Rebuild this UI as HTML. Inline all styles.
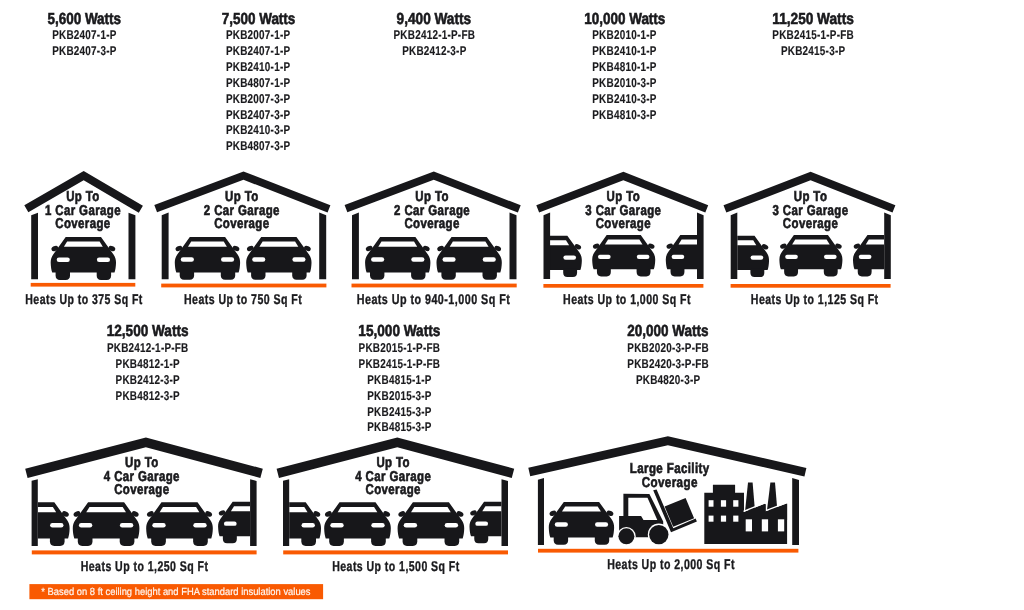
<!DOCTYPE html>
<html><head><meta charset="utf-8"><style>
html,body{margin:0;padding:0;background:#fff;}
svg{display:block;will-change:transform;}
text{font-family:"Liberation Sans",sans-serif;text-rendering:geometricPrecision;}
</style></head><body>
<svg width="1024" height="610" viewBox="0 0 1024 610">
<defs><clipPath id="c30"><rect x="550.1" y="200" width="146.89999999999998" height="100"/></clipPath><clipPath id="c31"><rect x="737.3" y="200" width="146.9000000000001" height="100"/></clipPath><clipPath id="c40"><rect x="37.8" y="480" width="212.3" height="80"/></clipPath><clipPath id="c41"><rect x="289.2" y="480" width="212.3" height="80"/></clipPath></defs>
<rect width="1024" height="610" fill="#fff"/>
<text transform="translate(84.25,23.60) scale(0.8429,1)" x="-43.72" y="0" font-size="16.0" font-weight="700" fill="#1a1a1d" stroke="#1a1a1d" stroke-width="0.6">5,600 Watts</text>
<text transform="translate(258.55,23.60) scale(0.8406,1)" x="-43.72" y="0" font-size="16.0" font-weight="700" fill="#1a1a1d" stroke="#1a1a1d" stroke-width="0.6">7,500 Watts</text>
<text transform="translate(433.85,23.60) scale(0.8520,1)" x="-43.72" y="0" font-size="16.0" font-weight="700" fill="#1a1a1d" stroke="#1a1a1d" stroke-width="0.6">9,400 Watts</text>
<text transform="translate(624.80,23.60) scale(0.8406,1)" x="-48.18" y="0" font-size="16.0" font-weight="700" fill="#1a1a1d" stroke="#1a1a1d" stroke-width="0.6">10,000 Watts</text>
<text transform="translate(813.05,23.60) scale(0.8536,1)" x="-47.74" y="0" font-size="16.0" font-weight="700" fill="#1a1a1d" stroke="#1a1a1d" stroke-width="0.6">11,250 Watts</text>
<text transform="translate(147.60,336.00) scale(0.8489,1)" x="-48.18" y="0" font-size="16.0" font-weight="700" fill="#1a1a1d" stroke="#1a1a1d" stroke-width="0.6">12,500 Watts</text>
<text transform="translate(399.30,336.00) scale(0.8510,1)" x="-48.18" y="0" font-size="16.0" font-weight="700" fill="#1a1a1d" stroke="#1a1a1d" stroke-width="0.6">15,000 Watts</text>
<text transform="translate(667.80,335.50) scale(0.8427,1)" x="-48.18" y="0" font-size="16.0" font-weight="700" fill="#1a1a1d" stroke="#1a1a1d" stroke-width="0.6">20,000 Watts</text>
<text transform="translate(84.25,39.00) scale(0.7758,1)" x="-41.34" y="0" font-size="12.8" font-weight="700" fill="#1a1a1d" letter-spacing="0.3" stroke="#1a1a1d" stroke-width="0.15">PKB2407-1-P</text>
<text transform="translate(84.25,54.90) scale(0.7758,1)" x="-41.34" y="0" font-size="12.8" font-weight="700" fill="#1a1a1d" letter-spacing="0.3" stroke="#1a1a1d" stroke-width="0.15">PKB2407-3-P</text>
<text transform="translate(258.00,39.00) scale(0.7758,1)" x="-41.34" y="0" font-size="12.8" font-weight="700" fill="#1a1a1d" letter-spacing="0.3" stroke="#1a1a1d" stroke-width="0.15">PKB2007-1-P</text>
<text transform="translate(258.00,54.90) scale(0.7758,1)" x="-41.34" y="0" font-size="12.8" font-weight="700" fill="#1a1a1d" letter-spacing="0.3" stroke="#1a1a1d" stroke-width="0.15">PKB2407-1-P</text>
<text transform="translate(258.00,70.80) scale(0.7758,1)" x="-41.34" y="0" font-size="12.8" font-weight="700" fill="#1a1a1d" letter-spacing="0.3" stroke="#1a1a1d" stroke-width="0.15">PKB2410-1-P</text>
<text transform="translate(258.00,86.70) scale(0.7758,1)" x="-41.34" y="0" font-size="12.8" font-weight="700" fill="#1a1a1d" letter-spacing="0.3" stroke="#1a1a1d" stroke-width="0.15">PKB4807-1-P</text>
<text transform="translate(258.00,102.60) scale(0.7758,1)" x="-41.34" y="0" font-size="12.8" font-weight="700" fill="#1a1a1d" letter-spacing="0.3" stroke="#1a1a1d" stroke-width="0.15">PKB2007-3-P</text>
<text transform="translate(258.00,118.50) scale(0.7758,1)" x="-41.34" y="0" font-size="12.8" font-weight="700" fill="#1a1a1d" letter-spacing="0.3" stroke="#1a1a1d" stroke-width="0.15">PKB2407-3-P</text>
<text transform="translate(258.00,134.40) scale(0.7758,1)" x="-41.34" y="0" font-size="12.8" font-weight="700" fill="#1a1a1d" letter-spacing="0.3" stroke="#1a1a1d" stroke-width="0.15">PKB2410-3-P</text>
<text transform="translate(258.00,150.30) scale(0.7758,1)" x="-41.34" y="0" font-size="12.8" font-weight="700" fill="#1a1a1d" letter-spacing="0.3" stroke="#1a1a1d" stroke-width="0.15">PKB4807-3-P</text>
<text transform="translate(434.20,39.00) scale(0.7758,1)" x="-52.46" y="0" font-size="12.8" font-weight="700" fill="#1a1a1d" letter-spacing="0.3" stroke="#1a1a1d" stroke-width="0.15">PKB2412-1-P-FB</text>
<text transform="translate(434.20,54.90) scale(0.7758,1)" x="-41.34" y="0" font-size="12.8" font-weight="700" fill="#1a1a1d" letter-spacing="0.3" stroke="#1a1a1d" stroke-width="0.15">PKB2412-3-P</text>
<text transform="translate(624.30,39.00) scale(0.7758,1)" x="-41.34" y="0" font-size="12.8" font-weight="700" fill="#1a1a1d" letter-spacing="0.3" stroke="#1a1a1d" stroke-width="0.15">PKB2010-1-P</text>
<text transform="translate(624.30,54.90) scale(0.7758,1)" x="-41.34" y="0" font-size="12.8" font-weight="700" fill="#1a1a1d" letter-spacing="0.3" stroke="#1a1a1d" stroke-width="0.15">PKB2410-1-P</text>
<text transform="translate(624.30,70.80) scale(0.7758,1)" x="-41.34" y="0" font-size="12.8" font-weight="700" fill="#1a1a1d" letter-spacing="0.3" stroke="#1a1a1d" stroke-width="0.15">PKB4810-1-P</text>
<text transform="translate(624.30,86.70) scale(0.7758,1)" x="-41.34" y="0" font-size="12.8" font-weight="700" fill="#1a1a1d" letter-spacing="0.3" stroke="#1a1a1d" stroke-width="0.15">PKB2010-3-P</text>
<text transform="translate(624.30,102.60) scale(0.7758,1)" x="-41.34" y="0" font-size="12.8" font-weight="700" fill="#1a1a1d" letter-spacing="0.3" stroke="#1a1a1d" stroke-width="0.15">PKB2410-3-P</text>
<text transform="translate(624.30,118.50) scale(0.7758,1)" x="-41.34" y="0" font-size="12.8" font-weight="700" fill="#1a1a1d" letter-spacing="0.3" stroke="#1a1a1d" stroke-width="0.15">PKB4810-3-P</text>
<text transform="translate(813.00,39.00) scale(0.7758,1)" x="-52.46" y="0" font-size="12.8" font-weight="700" fill="#1a1a1d" letter-spacing="0.3" stroke="#1a1a1d" stroke-width="0.15">PKB2415-1-P-FB</text>
<text transform="translate(813.00,54.90) scale(0.7758,1)" x="-41.34" y="0" font-size="12.8" font-weight="700" fill="#1a1a1d" letter-spacing="0.3" stroke="#1a1a1d" stroke-width="0.15">PKB2415-3-P</text>
<text transform="translate(147.60,351.90) scale(0.7758,1)" x="-52.46" y="0" font-size="12.8" font-weight="700" fill="#1a1a1d" letter-spacing="0.3" stroke="#1a1a1d" stroke-width="0.15">PKB2412-1-P-FB</text>
<text transform="translate(147.60,367.80) scale(0.7758,1)" x="-41.34" y="0" font-size="12.8" font-weight="700" fill="#1a1a1d" letter-spacing="0.3" stroke="#1a1a1d" stroke-width="0.15">PKB4812-1-P</text>
<text transform="translate(147.60,383.70) scale(0.7758,1)" x="-41.34" y="0" font-size="12.8" font-weight="700" fill="#1a1a1d" letter-spacing="0.3" stroke="#1a1a1d" stroke-width="0.15">PKB2412-3-P</text>
<text transform="translate(147.60,399.60) scale(0.7758,1)" x="-41.34" y="0" font-size="12.8" font-weight="700" fill="#1a1a1d" letter-spacing="0.3" stroke="#1a1a1d" stroke-width="0.15">PKB4812-3-P</text>
<text transform="translate(399.30,351.90) scale(0.7758,1)" x="-52.46" y="0" font-size="12.8" font-weight="700" fill="#1a1a1d" letter-spacing="0.3" stroke="#1a1a1d" stroke-width="0.15">PKB2015-1-P-FB</text>
<text transform="translate(399.30,367.80) scale(0.7758,1)" x="-52.46" y="0" font-size="12.8" font-weight="700" fill="#1a1a1d" letter-spacing="0.3" stroke="#1a1a1d" stroke-width="0.15">PKB2415-1-P-FB</text>
<text transform="translate(399.30,383.70) scale(0.7758,1)" x="-41.34" y="0" font-size="12.8" font-weight="700" fill="#1a1a1d" letter-spacing="0.3" stroke="#1a1a1d" stroke-width="0.15">PKB4815-1-P</text>
<text transform="translate(399.30,399.60) scale(0.7758,1)" x="-41.34" y="0" font-size="12.8" font-weight="700" fill="#1a1a1d" letter-spacing="0.3" stroke="#1a1a1d" stroke-width="0.15">PKB2015-3-P</text>
<text transform="translate(399.30,415.50) scale(0.7758,1)" x="-41.34" y="0" font-size="12.8" font-weight="700" fill="#1a1a1d" letter-spacing="0.3" stroke="#1a1a1d" stroke-width="0.15">PKB2415-3-P</text>
<text transform="translate(399.30,431.40) scale(0.7758,1)" x="-41.34" y="0" font-size="12.8" font-weight="700" fill="#1a1a1d" letter-spacing="0.3" stroke="#1a1a1d" stroke-width="0.15">PKB4815-3-P</text>
<text transform="translate(668.00,351.90) scale(0.7758,1)" x="-52.46" y="0" font-size="12.8" font-weight="700" fill="#1a1a1d" letter-spacing="0.3" stroke="#1a1a1d" stroke-width="0.15">PKB2020-3-P-FB</text>
<text transform="translate(668.00,367.80) scale(0.7758,1)" x="-52.46" y="0" font-size="12.8" font-weight="700" fill="#1a1a1d" letter-spacing="0.3" stroke="#1a1a1d" stroke-width="0.15">PKB2420-3-P-FB</text>
<text transform="translate(668.00,383.70) scale(0.7758,1)" x="-41.34" y="0" font-size="12.8" font-weight="700" fill="#1a1a1d" letter-spacing="0.3" stroke="#1a1a1d" stroke-width="0.15">PKB4820-3-P</text>
<polygon points="24.30,205.20 83.70,171.00 142.90,205.70 138.80,212.69 83.66,180.37 28.34,212.22" fill="#17171a" />
<polygon points="31.20,215.22 38.00,212.70 38.00,279.30 31.20,279.30" fill="#17171a" />
<polygon points="128.50,212.70 135.40,215.25 135.40,279.30 128.50,279.30" fill="#17171a" />
<rect x="30.70" y="282.90" width="104.60" height="3.70" fill="#f95a02"/>
<g transform="translate(50.90,237.10) scale(1.0)">
<path d="M14.8,0 H50.1 L62.6,17.4 C64.6,20.2 65.2,23 65.1,26 C65,29.5 64.5,33 63.6,35.5 H1.3 C0.4,33 -0.1,29.5 -0.2,26 C-0.3,23 0.3,20.2 2.3,17.4 Z" fill="#17171a"/>
<path d="M16.2,4.5 H48.7 L51.9,9.7 H13 Z" fill="#fff"/>
<ellipse cx="0" cy="0" rx="3.5" ry="2.4" transform="translate(3.9,11.4) rotate(-25)" fill="#17171a"/>
<ellipse cx="0" cy="0" rx="3.5" ry="2.4" transform="translate(61,11.4) rotate(25)" fill="#17171a"/>
<rect x="5.8" y="20.3" width="13.1" height="4.5" rx="2.25" fill="#fff"/>
<rect x="46" y="20.3" width="13.1" height="4.5" rx="2.25" fill="#fff"/>
<path d="M4.7,34 H19.1 V38.3 C19.1,41.2 17.6,42.8 14.8,42.8 H9 C6.2,42.8 4.7,41.2 4.7,38.3 Z" fill="#17171a"/>
<path d="M45.8,34 H60.2 V38.3 C60.2,41.2 58.7,42.8 55.9,42.8 H50.1 C47.3,42.8 45.8,41.2 45.8,38.3 Z" fill="#17171a"/>
</g>
<text transform="translate(82.70,201.10) scale(0.7998,1)" x="-20.72" y="0" font-size="14.3" font-weight="700" fill="#1a1a1d" letter-spacing="0.5" stroke="#1a1a1d" stroke-width="0.65">Up To</text>
<text transform="translate(82.70,214.80) scale(0.7998,1)" x="-47.26" y="0" font-size="14.3" font-weight="700" fill="#1a1a1d" letter-spacing="0.5" stroke="#1a1a1d" stroke-width="0.65">1 Car Garage</text>
<text transform="translate(82.70,228.10) scale(0.7998,1)" x="-34.34" y="0" font-size="14.3" font-weight="700" fill="#1a1a1d" letter-spacing="0.5" stroke="#1a1a1d" stroke-width="0.65">Coverage</text>
<text transform="translate(83.85,303.70) scale(0.7461,1)" x="-78.47" y="0" font-size="14.1" font-weight="700" fill="#1a1a1d" letter-spacing="0.6" stroke="#1a1a1d" stroke-width="0.35">Heats Up to 375 Sq Ft</text>
<polygon points="154.30,205.00 243.50,171.40 330.40,205.30 327.57,212.57 243.45,179.75 157.05,212.30" fill="#17171a" />
<polygon points="161.70,215.22 168.60,212.60 168.60,279.30 161.70,279.30" fill="#17171a" />
<polygon points="319.20,212.60 326.20,215.26 326.20,279.30 319.20,279.30" fill="#17171a" />
<rect x="161.20" y="283.60" width="165.20" height="3.80" fill="#f95a02"/>
<g transform="translate(175.00,237.00) scale(1.0)">
<path d="M14.8,0 H50.1 L62.6,17.4 C64.6,20.2 65.2,23 65.1,26 C65,29.5 64.5,33 63.6,35.5 H1.3 C0.4,33 -0.1,29.5 -0.2,26 C-0.3,23 0.3,20.2 2.3,17.4 Z" fill="#17171a"/>
<path d="M16.2,4.5 H48.7 L51.9,9.7 H13 Z" fill="#fff"/>
<ellipse cx="0" cy="0" rx="3.5" ry="2.4" transform="translate(3.9,11.4) rotate(-25)" fill="#17171a"/>
<ellipse cx="0" cy="0" rx="3.5" ry="2.4" transform="translate(61,11.4) rotate(25)" fill="#17171a"/>
<rect x="5.8" y="20.3" width="13.1" height="4.5" rx="2.25" fill="#fff"/>
<rect x="46" y="20.3" width="13.1" height="4.5" rx="2.25" fill="#fff"/>
<path d="M4.7,34 H19.1 V38.3 C19.1,41.2 17.6,42.8 14.8,42.8 H9 C6.2,42.8 4.7,41.2 4.7,38.3 Z" fill="#17171a"/>
<path d="M45.8,34 H60.2 V38.3 C60.2,41.2 58.7,42.8 55.9,42.8 H50.1 C47.3,42.8 45.8,41.2 45.8,38.3 Z" fill="#17171a"/>
</g>
<g transform="translate(246.40,237.00) scale(1.0)">
<path d="M14.8,0 H50.1 L62.6,17.4 C64.6,20.2 65.2,23 65.1,26 C65,29.5 64.5,33 63.6,35.5 H1.3 C0.4,33 -0.1,29.5 -0.2,26 C-0.3,23 0.3,20.2 2.3,17.4 Z" fill="#17171a"/>
<path d="M16.2,4.5 H48.7 L51.9,9.7 H13 Z" fill="#fff"/>
<ellipse cx="0" cy="0" rx="3.5" ry="2.4" transform="translate(3.9,11.4) rotate(-25)" fill="#17171a"/>
<ellipse cx="0" cy="0" rx="3.5" ry="2.4" transform="translate(61,11.4) rotate(25)" fill="#17171a"/>
<rect x="5.8" y="20.3" width="13.1" height="4.5" rx="2.25" fill="#fff"/>
<rect x="46" y="20.3" width="13.1" height="4.5" rx="2.25" fill="#fff"/>
<path d="M4.7,34 H19.1 V38.3 C19.1,41.2 17.6,42.8 14.8,42.8 H9 C6.2,42.8 4.7,41.2 4.7,38.3 Z" fill="#17171a"/>
<path d="M45.8,34 H60.2 V38.3 C60.2,41.2 58.7,42.8 55.9,42.8 H50.1 C47.3,42.8 45.8,41.2 45.8,38.3 Z" fill="#17171a"/>
</g>
<text transform="translate(241.60,201.10) scale(0.7998,1)" x="-20.72" y="0" font-size="14.3" font-weight="700" fill="#1a1a1d" letter-spacing="0.5" stroke="#1a1a1d" stroke-width="0.65">Up To</text>
<text transform="translate(241.60,214.80) scale(0.7998,1)" x="-47.26" y="0" font-size="14.3" font-weight="700" fill="#1a1a1d" letter-spacing="0.5" stroke="#1a1a1d" stroke-width="0.65">2 Car Garage</text>
<text transform="translate(241.60,228.10) scale(0.7998,1)" x="-34.34" y="0" font-size="14.3" font-weight="700" fill="#1a1a1d" letter-spacing="0.5" stroke="#1a1a1d" stroke-width="0.65">Coverage</text>
<text transform="translate(242.85,304.10) scale(0.7499,1)" x="-78.47" y="0" font-size="14.1" font-weight="700" fill="#1a1a1d" letter-spacing="0.6" stroke="#1a1a1d" stroke-width="0.35">Heats Up to 750 Sq Ft</text>
<polygon points="344.60,205.00 433.80,171.40 520.70,205.30 517.87,212.57 433.75,179.75 347.35,212.30" fill="#17171a" />
<polygon points="352.00,215.22 358.90,212.60 358.90,279.30 352.00,279.30" fill="#17171a" />
<polygon points="509.50,212.60 516.50,215.26 516.50,279.30 509.50,279.30" fill="#17171a" />
<rect x="351.50" y="283.60" width="165.20" height="3.80" fill="#f95a02"/>
<g transform="translate(365.30,237.00) scale(1.0)">
<path d="M14.8,0 H50.1 L62.6,17.4 C64.6,20.2 65.2,23 65.1,26 C65,29.5 64.5,33 63.6,35.5 H1.3 C0.4,33 -0.1,29.5 -0.2,26 C-0.3,23 0.3,20.2 2.3,17.4 Z" fill="#17171a"/>
<path d="M16.2,4.5 H48.7 L51.9,9.7 H13 Z" fill="#fff"/>
<ellipse cx="0" cy="0" rx="3.5" ry="2.4" transform="translate(3.9,11.4) rotate(-25)" fill="#17171a"/>
<ellipse cx="0" cy="0" rx="3.5" ry="2.4" transform="translate(61,11.4) rotate(25)" fill="#17171a"/>
<rect x="5.8" y="20.3" width="13.1" height="4.5" rx="2.25" fill="#fff"/>
<rect x="46" y="20.3" width="13.1" height="4.5" rx="2.25" fill="#fff"/>
<path d="M4.7,34 H19.1 V38.3 C19.1,41.2 17.6,42.8 14.8,42.8 H9 C6.2,42.8 4.7,41.2 4.7,38.3 Z" fill="#17171a"/>
<path d="M45.8,34 H60.2 V38.3 C60.2,41.2 58.7,42.8 55.9,42.8 H50.1 C47.3,42.8 45.8,41.2 45.8,38.3 Z" fill="#17171a"/>
</g>
<g transform="translate(436.70,237.00) scale(1.0)">
<path d="M14.8,0 H50.1 L62.6,17.4 C64.6,20.2 65.2,23 65.1,26 C65,29.5 64.5,33 63.6,35.5 H1.3 C0.4,33 -0.1,29.5 -0.2,26 C-0.3,23 0.3,20.2 2.3,17.4 Z" fill="#17171a"/>
<path d="M16.2,4.5 H48.7 L51.9,9.7 H13 Z" fill="#fff"/>
<ellipse cx="0" cy="0" rx="3.5" ry="2.4" transform="translate(3.9,11.4) rotate(-25)" fill="#17171a"/>
<ellipse cx="0" cy="0" rx="3.5" ry="2.4" transform="translate(61,11.4) rotate(25)" fill="#17171a"/>
<rect x="5.8" y="20.3" width="13.1" height="4.5" rx="2.25" fill="#fff"/>
<rect x="46" y="20.3" width="13.1" height="4.5" rx="2.25" fill="#fff"/>
<path d="M4.7,34 H19.1 V38.3 C19.1,41.2 17.6,42.8 14.8,42.8 H9 C6.2,42.8 4.7,41.2 4.7,38.3 Z" fill="#17171a"/>
<path d="M45.8,34 H60.2 V38.3 C60.2,41.2 58.7,42.8 55.9,42.8 H50.1 C47.3,42.8 45.8,41.2 45.8,38.3 Z" fill="#17171a"/>
</g>
<text transform="translate(431.90,201.10) scale(0.7998,1)" x="-20.72" y="0" font-size="14.3" font-weight="700" fill="#1a1a1d" letter-spacing="0.5" stroke="#1a1a1d" stroke-width="0.65">Up To</text>
<text transform="translate(431.90,214.80) scale(0.7998,1)" x="-47.26" y="0" font-size="14.3" font-weight="700" fill="#1a1a1d" letter-spacing="0.5" stroke="#1a1a1d" stroke-width="0.65">2 Car Garage</text>
<text transform="translate(431.90,228.10) scale(0.7998,1)" x="-34.34" y="0" font-size="14.3" font-weight="700" fill="#1a1a1d" letter-spacing="0.5" stroke="#1a1a1d" stroke-width="0.65">Coverage</text>
<text transform="translate(433.25,304.10) scale(0.7635,1)" x="-100.26" y="0" font-size="14.1" font-weight="700" fill="#1a1a1d" letter-spacing="0.6" stroke="#1a1a1d" stroke-width="0.35">Heats Up to 940-1,000 Sq Ft</text>
<polygon points="536.30,205.20 623.40,171.80 708.20,205.20 705.30,212.55 623.36,180.28 539.13,212.58" fill="#17171a" />
<g clip-path="url(#c30)"><g transform="translate(519.00,235.80) scale(0.965)">
<path d="M14.8,0 H50.1 L62.6,17.4 C64.6,20.2 65.2,23 65.1,26 C65,29.5 64.5,33 63.6,35.5 H1.3 C0.4,33 -0.1,29.5 -0.2,26 C-0.3,23 0.3,20.2 2.3,17.4 Z" fill="#17171a"/>
<path d="M16.2,4.5 H48.7 L51.9,9.7 H13 Z" fill="#fff"/>
<ellipse cx="0" cy="0" rx="3.5" ry="2.4" transform="translate(3.9,11.4) rotate(-25)" fill="#17171a"/>
<ellipse cx="0" cy="0" rx="3.5" ry="2.4" transform="translate(61,11.4) rotate(25)" fill="#17171a"/>
<rect x="5.8" y="20.3" width="13.1" height="4.5" rx="2.25" fill="#fff"/>
<rect x="46" y="20.3" width="13.1" height="4.5" rx="2.25" fill="#fff"/>
<path d="M4.7,34 H19.1 V38.3 C19.1,41.2 17.6,42.8 14.8,42.8 H9 C6.2,42.8 4.7,41.2 4.7,38.3 Z" fill="#17171a"/>
<path d="M45.8,34 H60.2 V38.3 C60.2,41.2 58.7,42.8 55.9,42.8 H50.1 C47.3,42.8 45.8,41.2 45.8,38.3 Z" fill="#17171a"/>
</g></g>
<g transform="translate(592.40,235.10) scale(0.965)">
<path d="M14.8,0 H50.1 L62.6,17.4 C64.6,20.2 65.2,23 65.1,26 C65,29.5 64.5,33 63.6,35.5 H1.3 C0.4,33 -0.1,29.5 -0.2,26 C-0.3,23 0.3,20.2 2.3,17.4 Z" fill="#17171a"/>
<path d="M16.2,4.5 H48.7 L51.9,9.7 H13 Z" fill="#fff"/>
<ellipse cx="0" cy="0" rx="3.5" ry="2.4" transform="translate(3.9,11.4) rotate(-25)" fill="#17171a"/>
<ellipse cx="0" cy="0" rx="3.5" ry="2.4" transform="translate(61,11.4) rotate(25)" fill="#17171a"/>
<rect x="5.8" y="20.3" width="13.1" height="4.5" rx="2.25" fill="#fff"/>
<rect x="46" y="20.3" width="13.1" height="4.5" rx="2.25" fill="#fff"/>
<path d="M4.7,34 H19.1 V38.3 C19.1,41.2 17.6,42.8 14.8,42.8 H9 C6.2,42.8 4.7,41.2 4.7,38.3 Z" fill="#17171a"/>
<path d="M45.8,34 H60.2 V38.3 C60.2,41.2 58.7,42.8 55.9,42.8 H50.1 C47.3,42.8 45.8,41.2 45.8,38.3 Z" fill="#17171a"/>
</g>
<g clip-path="url(#c30)"><g transform="translate(666.00,235.10) scale(0.965)">
<path d="M14.8,0 H50.1 L62.6,17.4 C64.6,20.2 65.2,23 65.1,26 C65,29.5 64.5,33 63.6,35.5 H1.3 C0.4,33 -0.1,29.5 -0.2,26 C-0.3,23 0.3,20.2 2.3,17.4 Z" fill="#17171a"/>
<path d="M16.2,4.5 H48.7 L51.9,9.7 H13 Z" fill="#fff"/>
<ellipse cx="0" cy="0" rx="3.5" ry="2.4" transform="translate(3.9,11.4) rotate(-25)" fill="#17171a"/>
<ellipse cx="0" cy="0" rx="3.5" ry="2.4" transform="translate(61,11.4) rotate(25)" fill="#17171a"/>
<rect x="5.8" y="20.3" width="13.1" height="4.5" rx="2.25" fill="#fff"/>
<rect x="46" y="20.3" width="13.1" height="4.5" rx="2.25" fill="#fff"/>
<path d="M4.7,34 H19.1 V38.3 C19.1,41.2 17.6,42.8 14.8,42.8 H9 C6.2,42.8 4.7,41.2 4.7,38.3 Z" fill="#17171a"/>
<path d="M45.8,34 H60.2 V38.3 C60.2,41.2 58.7,42.8 55.9,42.8 H50.1 C47.3,42.8 45.8,41.2 45.8,38.3 Z" fill="#17171a"/>
</g></g>
<polygon points="543.50,215.13 550.10,212.60 550.10,279.00 543.50,279.00" fill="#17171a" />
<polygon points="697.00,212.60 703.60,215.13 703.60,279.00 697.00,279.00" fill="#17171a" />
<rect x="543.40" y="284.00" width="160.00" height="3.70" fill="#f95a02"/>
<text transform="translate(623.10,201.10) scale(0.7998,1)" x="-20.72" y="0" font-size="14.3" font-weight="700" fill="#1a1a1d" letter-spacing="0.5" stroke="#1a1a1d" stroke-width="0.65">Up To</text>
<text transform="translate(623.10,214.80) scale(0.7998,1)" x="-47.26" y="0" font-size="14.3" font-weight="700" fill="#1a1a1d" letter-spacing="0.5" stroke="#1a1a1d" stroke-width="0.65">3 Car Garage</text>
<text transform="translate(623.10,228.10) scale(0.7998,1)" x="-34.34" y="0" font-size="14.3" font-weight="700" fill="#1a1a1d" letter-spacing="0.5" stroke="#1a1a1d" stroke-width="0.65">Coverage</text>
<text transform="translate(626.80,304.00) scale(0.7498,1)" x="-84.96" y="0" font-size="14.1" font-weight="700" fill="#1a1a1d" letter-spacing="0.6" stroke="#1a1a1d" stroke-width="0.35">Heats Up to 1,000 Sq Ft</text>
<polygon points="723.50,205.20 810.60,171.80 895.40,205.20 892.50,212.55 810.56,180.28 726.33,212.58" fill="#17171a" />
<g clip-path="url(#c31)"><g transform="translate(706.20,235.80) scale(0.965)">
<path d="M14.8,0 H50.1 L62.6,17.4 C64.6,20.2 65.2,23 65.1,26 C65,29.5 64.5,33 63.6,35.5 H1.3 C0.4,33 -0.1,29.5 -0.2,26 C-0.3,23 0.3,20.2 2.3,17.4 Z" fill="#17171a"/>
<path d="M16.2,4.5 H48.7 L51.9,9.7 H13 Z" fill="#fff"/>
<ellipse cx="0" cy="0" rx="3.5" ry="2.4" transform="translate(3.9,11.4) rotate(-25)" fill="#17171a"/>
<ellipse cx="0" cy="0" rx="3.5" ry="2.4" transform="translate(61,11.4) rotate(25)" fill="#17171a"/>
<rect x="5.8" y="20.3" width="13.1" height="4.5" rx="2.25" fill="#fff"/>
<rect x="46" y="20.3" width="13.1" height="4.5" rx="2.25" fill="#fff"/>
<path d="M4.7,34 H19.1 V38.3 C19.1,41.2 17.6,42.8 14.8,42.8 H9 C6.2,42.8 4.7,41.2 4.7,38.3 Z" fill="#17171a"/>
<path d="M45.8,34 H60.2 V38.3 C60.2,41.2 58.7,42.8 55.9,42.8 H50.1 C47.3,42.8 45.8,41.2 45.8,38.3 Z" fill="#17171a"/>
</g></g>
<g transform="translate(779.60,235.10) scale(0.965)">
<path d="M14.8,0 H50.1 L62.6,17.4 C64.6,20.2 65.2,23 65.1,26 C65,29.5 64.5,33 63.6,35.5 H1.3 C0.4,33 -0.1,29.5 -0.2,26 C-0.3,23 0.3,20.2 2.3,17.4 Z" fill="#17171a"/>
<path d="M16.2,4.5 H48.7 L51.9,9.7 H13 Z" fill="#fff"/>
<ellipse cx="0" cy="0" rx="3.5" ry="2.4" transform="translate(3.9,11.4) rotate(-25)" fill="#17171a"/>
<ellipse cx="0" cy="0" rx="3.5" ry="2.4" transform="translate(61,11.4) rotate(25)" fill="#17171a"/>
<rect x="5.8" y="20.3" width="13.1" height="4.5" rx="2.25" fill="#fff"/>
<rect x="46" y="20.3" width="13.1" height="4.5" rx="2.25" fill="#fff"/>
<path d="M4.7,34 H19.1 V38.3 C19.1,41.2 17.6,42.8 14.8,42.8 H9 C6.2,42.8 4.7,41.2 4.7,38.3 Z" fill="#17171a"/>
<path d="M45.8,34 H60.2 V38.3 C60.2,41.2 58.7,42.8 55.9,42.8 H50.1 C47.3,42.8 45.8,41.2 45.8,38.3 Z" fill="#17171a"/>
</g>
<g clip-path="url(#c31)"><g transform="translate(853.20,235.10) scale(0.965)">
<path d="M14.8,0 H50.1 L62.6,17.4 C64.6,20.2 65.2,23 65.1,26 C65,29.5 64.5,33 63.6,35.5 H1.3 C0.4,33 -0.1,29.5 -0.2,26 C-0.3,23 0.3,20.2 2.3,17.4 Z" fill="#17171a"/>
<path d="M16.2,4.5 H48.7 L51.9,9.7 H13 Z" fill="#fff"/>
<ellipse cx="0" cy="0" rx="3.5" ry="2.4" transform="translate(3.9,11.4) rotate(-25)" fill="#17171a"/>
<ellipse cx="0" cy="0" rx="3.5" ry="2.4" transform="translate(61,11.4) rotate(25)" fill="#17171a"/>
<rect x="5.8" y="20.3" width="13.1" height="4.5" rx="2.25" fill="#fff"/>
<rect x="46" y="20.3" width="13.1" height="4.5" rx="2.25" fill="#fff"/>
<path d="M4.7,34 H19.1 V38.3 C19.1,41.2 17.6,42.8 14.8,42.8 H9 C6.2,42.8 4.7,41.2 4.7,38.3 Z" fill="#17171a"/>
<path d="M45.8,34 H60.2 V38.3 C60.2,41.2 58.7,42.8 55.9,42.8 H50.1 C47.3,42.8 45.8,41.2 45.8,38.3 Z" fill="#17171a"/>
</g></g>
<polygon points="730.70,215.13 737.30,212.60 737.30,279.00 730.70,279.00" fill="#17171a" />
<polygon points="884.20,212.60 890.80,215.13 890.80,279.00 884.20,279.00" fill="#17171a" />
<rect x="730.60" y="284.00" width="160.00" height="3.70" fill="#f95a02"/>
<text transform="translate(810.30,201.10) scale(0.7998,1)" x="-20.72" y="0" font-size="14.3" font-weight="700" fill="#1a1a1d" letter-spacing="0.5" stroke="#1a1a1d" stroke-width="0.65">Up To</text>
<text transform="translate(810.30,214.80) scale(0.7998,1)" x="-47.26" y="0" font-size="14.3" font-weight="700" fill="#1a1a1d" letter-spacing="0.5" stroke="#1a1a1d" stroke-width="0.65">3 Car Garage</text>
<text transform="translate(810.30,228.10) scale(0.7998,1)" x="-34.34" y="0" font-size="14.3" font-weight="700" fill="#1a1a1d" letter-spacing="0.5" stroke="#1a1a1d" stroke-width="0.65">Coverage</text>
<text transform="translate(814.50,304.00) scale(0.7498,1)" x="-84.96" y="0" font-size="14.1" font-weight="700" fill="#1a1a1d" letter-spacing="0.6" stroke="#1a1a1d" stroke-width="0.35">Heats Up to 1,125 Sq Ft</text>
<polygon points="25.20,468.70 145.90,437.50 262.80,468.70 260.35,477.88 145.86,447.32 27.58,477.90" fill="#17171a" />
<g clip-path="url(#c40)"><g transform="translate(3.20,502.30) scale(1.02)">
<path d="M14.8,0 H50.1 L62.6,17.4 C64.6,20.2 65.2,23 65.1,26 C65,29.5 64.5,33 63.6,35.5 H1.3 C0.4,33 -0.1,29.5 -0.2,26 C-0.3,23 0.3,20.2 2.3,17.4 Z" fill="#17171a"/>
<path d="M16.2,4.5 H48.7 L51.9,9.7 H13 Z" fill="#fff"/>
<ellipse cx="0" cy="0" rx="3.5" ry="2.4" transform="translate(3.9,11.4) rotate(-25)" fill="#17171a"/>
<ellipse cx="0" cy="0" rx="3.5" ry="2.4" transform="translate(61,11.4) rotate(25)" fill="#17171a"/>
<rect x="5.8" y="20.3" width="13.1" height="4.5" rx="2.25" fill="#fff"/>
<rect x="46" y="20.3" width="13.1" height="4.5" rx="2.25" fill="#fff"/>
<path d="M4.7,34 H19.1 V38.3 C19.1,41.2 17.6,42.8 14.8,42.8 H9 C6.2,42.8 4.7,41.2 4.7,38.3 Z" fill="#17171a"/>
<path d="M45.8,34 H60.2 V38.3 C60.2,41.2 58.7,42.8 55.9,42.8 H50.1 C47.3,42.8 45.8,41.2 45.8,38.3 Z" fill="#17171a"/>
</g></g>
<g transform="translate(73.00,502.30) scale(1.02)">
<path d="M14.8,0 H50.1 L62.6,17.4 C64.6,20.2 65.2,23 65.1,26 C65,29.5 64.5,33 63.6,35.5 H1.3 C0.4,33 -0.1,29.5 -0.2,26 C-0.3,23 0.3,20.2 2.3,17.4 Z" fill="#17171a"/>
<path d="M16.2,4.5 H48.7 L51.9,9.7 H13 Z" fill="#fff"/>
<ellipse cx="0" cy="0" rx="3.5" ry="2.4" transform="translate(3.9,11.4) rotate(-25)" fill="#17171a"/>
<ellipse cx="0" cy="0" rx="3.5" ry="2.4" transform="translate(61,11.4) rotate(25)" fill="#17171a"/>
<rect x="5.8" y="20.3" width="13.1" height="4.5" rx="2.25" fill="#fff"/>
<rect x="46" y="20.3" width="13.1" height="4.5" rx="2.25" fill="#fff"/>
<path d="M4.7,34 H19.1 V38.3 C19.1,41.2 17.6,42.8 14.8,42.8 H9 C6.2,42.8 4.7,41.2 4.7,38.3 Z" fill="#17171a"/>
<path d="M45.8,34 H60.2 V38.3 C60.2,41.2 58.7,42.8 55.9,42.8 H50.1 C47.3,42.8 45.8,41.2 45.8,38.3 Z" fill="#17171a"/>
</g>
<g transform="translate(146.40,502.30) scale(1.02)">
<path d="M14.8,0 H50.1 L62.6,17.4 C64.6,20.2 65.2,23 65.1,26 C65,29.5 64.5,33 63.6,35.5 H1.3 C0.4,33 -0.1,29.5 -0.2,26 C-0.3,23 0.3,20.2 2.3,17.4 Z" fill="#17171a"/>
<path d="M16.2,4.5 H48.7 L51.9,9.7 H13 Z" fill="#fff"/>
<ellipse cx="0" cy="0" rx="3.5" ry="2.4" transform="translate(3.9,11.4) rotate(-25)" fill="#17171a"/>
<ellipse cx="0" cy="0" rx="3.5" ry="2.4" transform="translate(61,11.4) rotate(25)" fill="#17171a"/>
<rect x="5.8" y="20.3" width="13.1" height="4.5" rx="2.25" fill="#fff"/>
<rect x="46" y="20.3" width="13.1" height="4.5" rx="2.25" fill="#fff"/>
<path d="M4.7,34 H19.1 V38.3 C19.1,41.2 17.6,42.8 14.8,42.8 H9 C6.2,42.8 4.7,41.2 4.7,38.3 Z" fill="#17171a"/>
<path d="M45.8,34 H60.2 V38.3 C60.2,41.2 58.7,42.8 55.9,42.8 H50.1 C47.3,42.8 45.8,41.2 45.8,38.3 Z" fill="#17171a"/>
</g>
<g clip-path="url(#c40)"><g transform="translate(218.30,501.80) scale(0.97)">
<path d="M14.8,0 H50.1 L62.6,17.4 C64.6,20.2 65.2,23 65.1,26 C65,29.5 64.5,33 63.6,35.5 H1.3 C0.4,33 -0.1,29.5 -0.2,26 C-0.3,23 0.3,20.2 2.3,17.4 Z" fill="#17171a"/>
<path d="M16.2,4.5 H48.7 L51.9,9.7 H13 Z" fill="#fff"/>
<ellipse cx="0" cy="0" rx="3.5" ry="2.4" transform="translate(3.9,11.4) rotate(-25)" fill="#17171a"/>
<ellipse cx="0" cy="0" rx="3.5" ry="2.4" transform="translate(61,11.4) rotate(25)" fill="#17171a"/>
<rect x="5.8" y="20.3" width="13.1" height="4.5" rx="2.25" fill="#fff"/>
<rect x="46" y="20.3" width="13.1" height="4.5" rx="2.25" fill="#fff"/>
<path d="M4.7,34 H19.1 V38.3 C19.1,41.2 17.6,42.8 14.8,42.8 H9 C6.2,42.8 4.7,41.2 4.7,38.3 Z" fill="#17171a"/>
<path d="M45.8,34 H60.2 V38.3 C60.2,41.2 58.7,42.8 55.9,42.8 H50.1 C47.3,42.8 45.8,41.2 45.8,38.3 Z" fill="#17171a"/>
</g></g>
<polygon points="31.60,480.80 37.80,479.20 37.80,546.00 31.60,546.00" fill="#17171a" />
<polygon points="250.10,479.20 256.60,480.88 256.60,546.00 250.10,546.00" fill="#17171a" />
<rect x="31.80" y="550.40" width="224.80" height="4.00" fill="#f95a02"/>
<text transform="translate(141.60,467.00) scale(0.7998,1)" x="-20.72" y="0" font-size="14.3" font-weight="700" fill="#1a1a1d" letter-spacing="0.5" stroke="#1a1a1d" stroke-width="0.65">Up To</text>
<text transform="translate(141.60,480.60) scale(0.7998,1)" x="-47.26" y="0" font-size="14.3" font-weight="700" fill="#1a1a1d" letter-spacing="0.5" stroke="#1a1a1d" stroke-width="0.65">4 Car Garage</text>
<text transform="translate(141.60,494.00) scale(0.7998,1)" x="-34.34" y="0" font-size="14.3" font-weight="700" fill="#1a1a1d" letter-spacing="0.5" stroke="#1a1a1d" stroke-width="0.65">Coverage</text>
<text transform="translate(144.40,570.60) scale(0.7498,1)" x="-84.96" y="0" font-size="14.1" font-weight="700" fill="#1a1a1d" letter-spacing="0.6" stroke="#1a1a1d" stroke-width="0.35">Heats Up to 1,250 Sq Ft</text>
<polygon points="276.60,468.70 397.30,437.50 514.20,468.70 511.75,477.88 397.26,447.32 278.98,477.90" fill="#17171a" />
<g clip-path="url(#c41)"><g transform="translate(254.60,502.30) scale(1.02)">
<path d="M14.8,0 H50.1 L62.6,17.4 C64.6,20.2 65.2,23 65.1,26 C65,29.5 64.5,33 63.6,35.5 H1.3 C0.4,33 -0.1,29.5 -0.2,26 C-0.3,23 0.3,20.2 2.3,17.4 Z" fill="#17171a"/>
<path d="M16.2,4.5 H48.7 L51.9,9.7 H13 Z" fill="#fff"/>
<ellipse cx="0" cy="0" rx="3.5" ry="2.4" transform="translate(3.9,11.4) rotate(-25)" fill="#17171a"/>
<ellipse cx="0" cy="0" rx="3.5" ry="2.4" transform="translate(61,11.4) rotate(25)" fill="#17171a"/>
<rect x="5.8" y="20.3" width="13.1" height="4.5" rx="2.25" fill="#fff"/>
<rect x="46" y="20.3" width="13.1" height="4.5" rx="2.25" fill="#fff"/>
<path d="M4.7,34 H19.1 V38.3 C19.1,41.2 17.6,42.8 14.8,42.8 H9 C6.2,42.8 4.7,41.2 4.7,38.3 Z" fill="#17171a"/>
<path d="M45.8,34 H60.2 V38.3 C60.2,41.2 58.7,42.8 55.9,42.8 H50.1 C47.3,42.8 45.8,41.2 45.8,38.3 Z" fill="#17171a"/>
</g></g>
<g transform="translate(324.40,502.30) scale(1.02)">
<path d="M14.8,0 H50.1 L62.6,17.4 C64.6,20.2 65.2,23 65.1,26 C65,29.5 64.5,33 63.6,35.5 H1.3 C0.4,33 -0.1,29.5 -0.2,26 C-0.3,23 0.3,20.2 2.3,17.4 Z" fill="#17171a"/>
<path d="M16.2,4.5 H48.7 L51.9,9.7 H13 Z" fill="#fff"/>
<ellipse cx="0" cy="0" rx="3.5" ry="2.4" transform="translate(3.9,11.4) rotate(-25)" fill="#17171a"/>
<ellipse cx="0" cy="0" rx="3.5" ry="2.4" transform="translate(61,11.4) rotate(25)" fill="#17171a"/>
<rect x="5.8" y="20.3" width="13.1" height="4.5" rx="2.25" fill="#fff"/>
<rect x="46" y="20.3" width="13.1" height="4.5" rx="2.25" fill="#fff"/>
<path d="M4.7,34 H19.1 V38.3 C19.1,41.2 17.6,42.8 14.8,42.8 H9 C6.2,42.8 4.7,41.2 4.7,38.3 Z" fill="#17171a"/>
<path d="M45.8,34 H60.2 V38.3 C60.2,41.2 58.7,42.8 55.9,42.8 H50.1 C47.3,42.8 45.8,41.2 45.8,38.3 Z" fill="#17171a"/>
</g>
<g transform="translate(397.80,502.30) scale(1.02)">
<path d="M14.8,0 H50.1 L62.6,17.4 C64.6,20.2 65.2,23 65.1,26 C65,29.5 64.5,33 63.6,35.5 H1.3 C0.4,33 -0.1,29.5 -0.2,26 C-0.3,23 0.3,20.2 2.3,17.4 Z" fill="#17171a"/>
<path d="M16.2,4.5 H48.7 L51.9,9.7 H13 Z" fill="#fff"/>
<ellipse cx="0" cy="0" rx="3.5" ry="2.4" transform="translate(3.9,11.4) rotate(-25)" fill="#17171a"/>
<ellipse cx="0" cy="0" rx="3.5" ry="2.4" transform="translate(61,11.4) rotate(25)" fill="#17171a"/>
<rect x="5.8" y="20.3" width="13.1" height="4.5" rx="2.25" fill="#fff"/>
<rect x="46" y="20.3" width="13.1" height="4.5" rx="2.25" fill="#fff"/>
<path d="M4.7,34 H19.1 V38.3 C19.1,41.2 17.6,42.8 14.8,42.8 H9 C6.2,42.8 4.7,41.2 4.7,38.3 Z" fill="#17171a"/>
<path d="M45.8,34 H60.2 V38.3 C60.2,41.2 58.7,42.8 55.9,42.8 H50.1 C47.3,42.8 45.8,41.2 45.8,38.3 Z" fill="#17171a"/>
</g>
<g clip-path="url(#c41)"><g transform="translate(469.70,501.80) scale(0.97)">
<path d="M14.8,0 H50.1 L62.6,17.4 C64.6,20.2 65.2,23 65.1,26 C65,29.5 64.5,33 63.6,35.5 H1.3 C0.4,33 -0.1,29.5 -0.2,26 C-0.3,23 0.3,20.2 2.3,17.4 Z" fill="#17171a"/>
<path d="M16.2,4.5 H48.7 L51.9,9.7 H13 Z" fill="#fff"/>
<ellipse cx="0" cy="0" rx="3.5" ry="2.4" transform="translate(3.9,11.4) rotate(-25)" fill="#17171a"/>
<ellipse cx="0" cy="0" rx="3.5" ry="2.4" transform="translate(61,11.4) rotate(25)" fill="#17171a"/>
<rect x="5.8" y="20.3" width="13.1" height="4.5" rx="2.25" fill="#fff"/>
<rect x="46" y="20.3" width="13.1" height="4.5" rx="2.25" fill="#fff"/>
<path d="M4.7,34 H19.1 V38.3 C19.1,41.2 17.6,42.8 14.8,42.8 H9 C6.2,42.8 4.7,41.2 4.7,38.3 Z" fill="#17171a"/>
<path d="M45.8,34 H60.2 V38.3 C60.2,41.2 58.7,42.8 55.9,42.8 H50.1 C47.3,42.8 45.8,41.2 45.8,38.3 Z" fill="#17171a"/>
</g></g>
<polygon points="283.00,480.80 289.20,479.20 289.20,546.00 283.00,546.00" fill="#17171a" />
<polygon points="501.50,479.20 508.00,480.88 508.00,546.00 501.50,546.00" fill="#17171a" />
<rect x="283.20" y="550.40" width="224.80" height="4.00" fill="#f95a02"/>
<text transform="translate(393.00,467.00) scale(0.7998,1)" x="-20.72" y="0" font-size="14.3" font-weight="700" fill="#1a1a1d" letter-spacing="0.5" stroke="#1a1a1d" stroke-width="0.65">Up To</text>
<text transform="translate(393.00,480.60) scale(0.7998,1)" x="-47.26" y="0" font-size="14.3" font-weight="700" fill="#1a1a1d" letter-spacing="0.5" stroke="#1a1a1d" stroke-width="0.65">4 Car Garage</text>
<text transform="translate(393.00,494.00) scale(0.7998,1)" x="-34.34" y="0" font-size="14.3" font-weight="700" fill="#1a1a1d" letter-spacing="0.5" stroke="#1a1a1d" stroke-width="0.65">Coverage</text>
<text transform="translate(395.75,570.60) scale(0.7480,1)" x="-84.96" y="0" font-size="14.1" font-weight="700" fill="#1a1a1d" letter-spacing="0.6" stroke="#1a1a1d" stroke-width="0.35">Heats Up to 1,500 Sq Ft</text>
<polygon points="528.30,467.70 667.90,436.20 806.40,468.00 804.43,476.58 667.88,445.23 530.24,476.28" fill="#17171a" />
<polygon points="537.90,479.83 544.00,478.00 544.00,545.00 537.90,545.00" fill="#17171a" />
<polygon points="792.20,478.00 799.00,480.04 799.00,545.00 792.20,545.00" fill="#17171a" />
<rect x="538.00" y="548.80" width="260.40" height="3.80" fill="#f95a02"/>
<g transform="translate(549.00,501.90) scale(1.0)">
<path d="M14.8,0 H50.1 L62.6,17.4 C64.6,20.2 65.2,23 65.1,26 C65,29.5 64.5,33 63.6,35.5 H1.3 C0.4,33 -0.1,29.5 -0.2,26 C-0.3,23 0.3,20.2 2.3,17.4 Z" fill="#17171a"/>
<path d="M16.2,4.5 H48.7 L51.9,9.7 H13 Z" fill="#fff"/>
<ellipse cx="0" cy="0" rx="3.5" ry="2.4" transform="translate(3.9,11.4) rotate(-25)" fill="#17171a"/>
<ellipse cx="0" cy="0" rx="3.5" ry="2.4" transform="translate(61,11.4) rotate(25)" fill="#17171a"/>
<rect x="5.8" y="20.3" width="13.1" height="4.5" rx="2.25" fill="#fff"/>
<rect x="46" y="20.3" width="13.1" height="4.5" rx="2.25" fill="#fff"/>
<path d="M4.7,34 H19.1 V38.3 C19.1,41.2 17.6,42.8 14.8,42.8 H9 C6.2,42.8 4.7,41.2 4.7,38.3 Z" fill="#17171a"/>
<path d="M45.8,34 H60.2 V38.3 C60.2,41.2 58.7,42.8 55.9,42.8 H50.1 C47.3,42.8 45.8,41.2 45.8,38.3 Z" fill="#17171a"/>
</g>
<text transform="translate(669.50,472.70) scale(0.8045,1)" x="-49.35" y="0" font-size="14.3" font-weight="700" fill="#1a1a1d" letter-spacing="0.5" stroke="#1a1a1d" stroke-width="0.65">Large Facility</text>
<text transform="translate(669.55,486.50) scale(0.8111,1)" x="-34.34" y="0" font-size="14.3" font-weight="700" fill="#1a1a1d" letter-spacing="0.5" stroke="#1a1a1d" stroke-width="0.65">Coverage</text>
<text transform="translate(670.90,569.00) scale(0.7498,1)" x="-84.96" y="0" font-size="14.1" font-weight="700" fill="#1a1a1d" letter-spacing="0.6" stroke="#1a1a1d" stroke-width="0.35">Heats Up to 2,000 Sq Ft</text>
<polygon points="623.40,493.70 649.40,493.90 663.20,521.40 663.20,530.00 650.00,537.20 634.00,537.20 619.10,530.80 619.10,516.00 623.40,516.00" fill="#17171a" />
<polygon points="628.30,497.80 647.50,497.80 657.30,519.90 643.50,519.90 641.10,516.00 628.30,516.00" fill="#fff" />
<circle cx="626.4" cy="536.3" r="9.3" fill="#fff"/><circle cx="626.4" cy="536.3" r="8.0" fill="#17171a"/>
<circle cx="658.8" cy="534.6" r="11.0" fill="#fff"/><circle cx="658.8" cy="534.6" r="9.7" fill="#17171a"/>
<polygon points="653.20,490.30 656.60,489.40 673.30,528.20 695.60,518.60 696.90,521.60 671.00,532.30" fill="#17171a" stroke="#fff" stroke-width="1.2" paint-order="stroke"/>
<polygon points="664.60,506.50 685.60,498.10 694.10,518.30 673.20,526.80" fill="#17171a" />
<polygon points="704.30,492.80 712.90,492.80 712.90,484.80 735.10,484.80 735.10,492.80 744.00,492.80 744.00,511.90 765.80,503.30 765.80,511.30 787.10,503.30 787.10,544.00 704.30,544.00" fill="#17171a" />
<polygon points="748.00,482.60 752.60,482.60 754.90,510.00 745.20,510.00" fill="#17171a" />
<polygon points="770.40,482.60 775.00,482.60 777.30,510.00 767.00,510.00" fill="#17171a" />
<polyline points="743.5,511.3 765.8,502.6 765.8,510.6 787.6,502.4" fill="none" stroke="#fff" stroke-width="1.3"/>
<polygon points="744.00,512.60 765.80,504.00 765.80,512.00 787.10,504.00 787.10,520.00 744.00,520.00" fill="#17171a" />
<rect x="708.60" y="500.20" width="4.90" height="6.50" fill="#fff"/>
<rect x="708.60" y="515.60" width="4.90" height="6.10" fill="#fff"/>
<rect x="720.90" y="500.20" width="5.20" height="6.50" fill="#fff"/>
<rect x="720.90" y="515.60" width="5.20" height="6.10" fill="#fff"/>
<rect x="733.20" y="500.20" width="5.20" height="6.50" fill="#fff"/>
<rect x="733.20" y="515.60" width="5.20" height="6.10" fill="#fff"/>
<rect x="745.70" y="519.30" width="6.30" height="12.10" fill="#fff"/>
<rect x="761.80" y="519.30" width="6.30" height="12.10" fill="#fff"/>
<rect x="777.90" y="519.30" width="6.30" height="12.10" fill="#fff"/>
<rect x="29.40" y="584.10" width="293.70" height="15.10" fill="#f95a02"/>
<text transform="translate(175.95,595.20) scale(0.9115,1)" x="-147.73" y="0" font-size="10.3" font-weight="400" fill="#fff6f0" stroke="#fff6f0" stroke-width="0.2">* Based on 8 ft ceiling height and FHA standard insulation values</text>
</svg></body></html>
